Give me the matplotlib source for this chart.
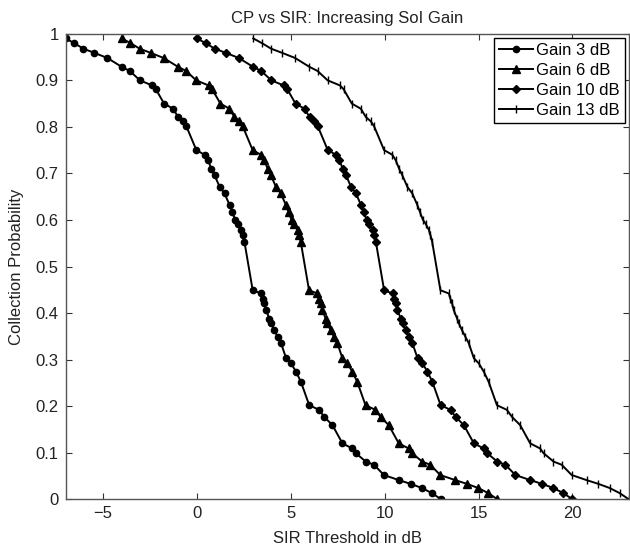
import matplotlib
matplotlib.use("Agg")
import matplotlib.pyplot as plt

plt.rcParams['font.family'] = ['Liberation Sans', 'DejaVu Sans']

# Collection probability levels (shared by all curves)
cp = [0.99, 0.98, 0.968, 0.959, 0.948, 0.929, 0.92, 0.90, 0.889, 0.881,
      0.85, 0.839, 0.821, 0.812, 0.801, 0.75, 0.74, 0.728, 0.71, 0.696,
      0.671, 0.657, 0.632, 0.617, 0.60, 0.592, 0.578, 0.567, 0.553, 0.449,
      0.442, 0.431, 0.421, 0.406, 0.388, 0.378, 0.363, 0.349, 0.335, 0.303,
      0.292, 0.274, 0.252, 0.202, 0.192, 0.177, 0.159, 0.12, 0.109, 0.099,
      0.081, 0.074, 0.052, 0.041, 0.033, 0.024, 0.013, 0.0]

sir_gain3 = [-7, -6.54, -6.05, -5.46, -4.77, -4.01, -3.57, -3.04, -2.38, -2.19,
             -1.75, -1.27, -1.0, -0.74, -0.56, -0.03, 0.41, 0.59, 0.77, 0.94,
             1.21, 1.47, 1.74, 1.88, 2.04, 2.18, 2.36, 2.44, 2.53, 2.97,
             3.42, 3.50, 3.59, 3.68, 3.86, 3.95, 4.12, 4.30, 4.48, 4.75,
             5.01, 5.28, 5.54, 5.98, 6.51, 6.78, 7.22, 7.75, 8.28, 8.46,
             8.99, 9.43, 9.96, 10.76, 11.38, 11.99, 12.52, 13.0]

sir_gain6 = [-4, -3.54, -3.05, -2.46, -1.77, -1.01, -0.57, -0.04, 0.62, 0.81,
             1.25, 1.73, 2.0, 2.26, 2.44, 2.97, 3.41, 3.59, 3.77, 3.94,
             4.21, 4.47, 4.74, 4.88, 5.04, 5.18, 5.36, 5.44, 5.53, 5.97,
             6.42, 6.50, 6.59, 6.68, 6.86, 6.95, 7.12, 7.30, 7.48, 7.75,
             8.01, 8.28, 8.54, 8.98, 9.51, 9.78, 10.22, 10.75, 11.28, 11.46,
             11.99, 12.43, 12.96, 13.76, 14.38, 14.99, 15.52, 16.0]

sir_gain10 = [0, 0.46, 0.95, 1.54, 2.23, 2.99, 3.43, 3.96, 4.62, 4.81,
              5.25, 5.73, 6.0, 6.26, 6.44, 6.97, 7.41, 7.59, 7.77, 7.94,
              8.21, 8.47, 8.74, 8.88, 9.04, 9.18, 9.36, 9.44, 9.53, 9.97,
              10.42, 10.50, 10.59, 10.68, 10.86, 10.95, 11.12, 11.30, 11.48, 11.75,
              12.01, 12.28, 12.54, 12.98, 13.51, 13.78, 14.22, 14.75, 15.28, 15.46,
              15.99, 16.43, 16.96, 17.76, 18.38, 18.99, 19.52, 20.0]

sir_gain13 = [3, 3.46, 3.95, 4.54, 5.23, 5.99, 6.43, 6.96, 7.62, 7.81,
              8.25, 8.73, 9.0, 9.26, 9.44, 9.97, 10.41, 10.59, 10.77, 10.94,
              11.21, 11.47, 11.74, 11.88, 12.04, 12.18, 12.36, 12.44, 12.53, 12.97,
              13.42, 13.50, 13.59, 13.68, 13.86, 13.95, 14.12, 14.30, 14.48, 14.75,
              15.01, 15.28, 15.54, 15.98, 16.51, 16.78, 17.22, 17.75, 18.28, 18.46,
              18.99, 19.43, 19.96, 20.76, 21.38, 21.99, 22.52, 23.0]

labels = ['Gain 3 dB', 'Gain 6 dB', 'Gain 10 dB', 'Gain 13 dB']
xticks = [-5, 0, 5, 10, 15, 20]
yticks = [0, 0.1, 0.2, 0.3, 0.4, 0.5, 0.6, 0.7, 0.8, 0.9, 1]
ytick_labels = ['0', '0.1', '0.2', '0.3', '0.4', '0.5', '0.6', '0.7', '0.8', '0.9', '1']

FS = 12

fig = plt.figure(figsize=(6.3, 5.45), dpi=100)
ax = fig.add_axes([0.104, 0.084, 0.894, 0.854])

series = [(sir_gain3, 'o', 4.5), (sir_gain6, '^', 5.5), (sir_gain10, 'D', 4.5), (sir_gain13, '|', 5.5)]
for (xs, mk, ms), lab in zip(series, labels):
    ax.plot(xs, cp, color='black', lw=1.4, marker=mk, markersize=ms,
            markeredgewidth=1.0, markerfacecolor='black', markeredgecolor='black',
            label=lab)

ax.set_xlim(-7, 23)
ax.set_ylim(0, 1)
ax.set_xticks(xticks)
ax.set_xticklabels([str(t) if t >= 0 else '\u2212' + str(-t) for t in xticks])
ax.set_yticks(yticks)
ax.set_yticklabels(ytick_labels)
ax.tick_params(direction='in', top=True, right=True, length=4, width=0.8,
               colors='#333333', labelsize=FS, labelcolor='#222222', pad=5)
for s in ax.spines.values():
    s.set_color('#555555')
    s.set_linewidth(1.0)

ax.set_title('CP vs SIR: Increasing SoI Gain', fontsize=FS, color='#222222', pad=8)
ax.set_xlabel('SIR Threshold in dB', fontsize=FS, color='#222222', labelpad=7)
ax.set_ylabel('Collection Probability', fontsize=FS, color='#222222', labelpad=8)

leg = ax.legend(loc='upper right', fontsize=FS, fancybox=False, framealpha=1,
                edgecolor='black', handlelength=2.0, borderpad=0.3,
                labelspacing=0.3, handletextpad=0.2, borderaxespad=0.25)
leg.get_frame().set_linewidth(1.0)

fig.savefig('out.png', dpi=100)
